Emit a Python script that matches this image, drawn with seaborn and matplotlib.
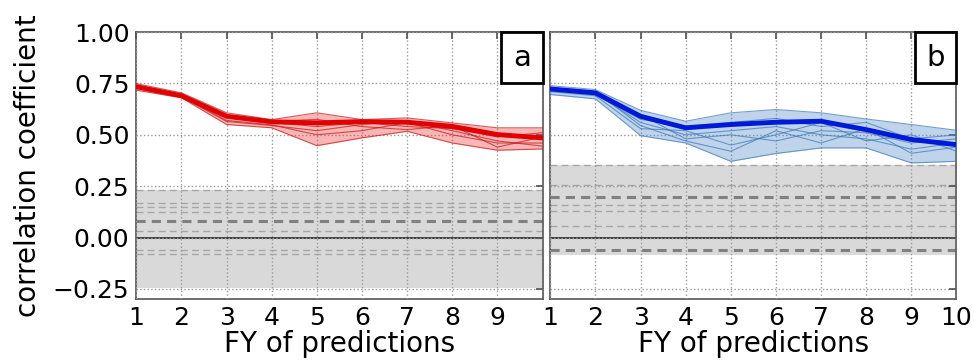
import numpy as np
import pandas as pd
import matplotlib
matplotlib.use("Agg")
import matplotlib.pyplot as plt
import seaborn as sns
from matplotlib.offsetbox import AnchoredText

sns.set_theme(style="white")
plt.rcParams['font.family'] = ['DejaVu Sans']
plt.rcParams['text.color'] = 'black'
plt.rcParams['axes.labelcolor'] = 'black'
plt.rcParams['xtick.labelcolor'] = 'black'
plt.rcParams['ytick.labelcolor'] = 'black'

fy = list(range(1, 11))

# panel a: ensemble members (thin) and the full-ensemble skill (thick)
a_members = [
    [0.749, 0.704, 0.607, 0.574, 0.607, 0.574, 0.582, 0.558, 0.534, 0.534],
    [0.717, 0.680, 0.550, 0.534, 0.447, 0.485, 0.517, 0.460, 0.425, 0.431],
    [0.735, 0.695, 0.585, 0.560, 0.540, 0.560, 0.540, 0.530, 0.490, 0.510],
    [0.728, 0.688, 0.570, 0.548, 0.500, 0.520, 0.560, 0.500, 0.460, 0.460],
    [0.740, 0.690, 0.595, 0.565, 0.575, 0.540, 0.525, 0.545, 0.440, 0.490],
    [0.732, 0.684, 0.565, 0.545, 0.520, 0.550, 0.570, 0.520, 0.470, 0.445],
]
a_main = [0.734, 0.690, 0.590, 0.563, 0.558, 0.564, 0.561, 0.541, 0.501, 0.485]
a_noise_band = (-0.245, 0.229)
a_noise_lines = [0.229, 0.169, 0.148, 0.123, 0.034, -0.061, -0.079]
a_noise_thick = [0.079]

# panel b
b_members = [
    [0.739, 0.720, 0.619, 0.566, 0.607, 0.623, 0.607, 0.577, 0.550, 0.522],
    [0.696, 0.675, 0.496, 0.460, 0.371, 0.409, 0.436, 0.436, 0.363, 0.371],
    [0.720, 0.700, 0.560, 0.500, 0.520, 0.540, 0.500, 0.480, 0.430, 0.460],
    [0.710, 0.690, 0.530, 0.520, 0.450, 0.500, 0.560, 0.470, 0.500, 0.420],
    [0.730, 0.705, 0.600, 0.480, 0.500, 0.470, 0.520, 0.510, 0.460, 0.480],
    [0.715, 0.695, 0.575, 0.540, 0.560, 0.580, 0.540, 0.560, 0.480, 0.500],
    [0.725, 0.710, 0.545, 0.470, 0.420, 0.520, 0.460, 0.530, 0.410, 0.440],
]
b_main = [0.723, 0.704, 0.590, 0.534, 0.550, 0.561, 0.566, 0.525, 0.477, 0.452]
b_noise_band = (-0.083, 0.355)
b_noise_lines = [0.355, 0.254, 0.157, 0.130, 0.054]
b_noise_thick = [0.196, -0.062]


def to_long(members):
    rows = []
    for i, m in enumerate(members):
        for x, v in zip(fy, m):
            rows.append({'fy': x, 'r': v, 'member': i})
    return pd.DataFrame(rows)


def draw_panel(ax, members, main, band, lines, thick, col_fill, col_member, col_main, label):
    ax.axhspan(band[0], band[1], color='#d9d9d9', zorder=0, lw=0)
    for y in lines:
        ax.axhline(y, color='#a6a6a6', ls='--', lw=1.0, dashes=(5, 3), zorder=1)
    for y in thick:
        ax.axhline(y, color='#808080', ls='--', lw=2.2, dashes=(3, 2), zorder=1)
    ax.axhline(0, color='#333333', lw=1.3, zorder=2)

    df = to_long(members)
    arr = np.array(members)
    ax.fill_between(fy, arr.min(axis=0), arr.max(axis=0), color=col_fill, alpha=0.35, lw=0, zorder=3)
    sns.lineplot(data=df, x='fy', y='r', units='member', estimator=None,
                 color=col_member, lw=0.8, alpha=0.7, ax=ax, zorder=4)
    sns.lineplot(x=fy, y=main, color=col_main, lw=3.5, ax=ax, zorder=5)

    ax.set_xlim(1, 10)
    ax.set_ylim(-0.3, 1.0)
    ax.set_xticks(fy)
    ax.grid(True, ls=':', color='#9a9a9a', lw=1.0)
    ax.set_axisbelow(False)
    ax.tick_params(direction='in', length=5, labelsize=18, color='#555555',
                   top=True, right=True, pad=5)
    for s in ax.spines.values():
        s.set_color('#555555')
        s.set_linewidth(1.2)
    ax.set_xlabel('FY of predictions', fontsize=20, labelpad=0)
    at = AnchoredText(label, loc='upper right', frameon=True, borderpad=0.0,
                      pad=0.4, prop=dict(size=21))
    at.patch.set_edgecolor('black')
    at.patch.set_linewidth(2)
    ax.add_artist(at)


fig = plt.figure(figsize=(9.74, 3.64), dpi=100)
ax1 = fig.add_axes([0.140, 0.178, 0.417, 0.734])
ax2 = fig.add_axes([0.565, 0.178, 0.417, 0.734])

draw_panel(ax1, a_members, a_main, a_noise_band, a_noise_lines, a_noise_thick,
           '#f03030', '#c01818', '#e00000', 'a')
draw_panel(ax2, b_members, b_main, b_noise_band, b_noise_lines, b_noise_thick,
           '#4a86c8', '#3c78b8', '#0018d8', 'b')

ax1.set_yticks([-0.25, 0, 0.25, 0.5, 0.75, 1.0])
ax1.set_yticklabels(['\u22120.25', '0.00', '0.25', '0.50', '0.75', '1.00'])
ax1.set_xticklabels([str(i) for i in range(1, 10)] + [''])
ax1.set_ylabel('correlation coefficient', fontsize=20, labelpad=8)
ax2.set_yticks([-0.25, 0, 0.25, 0.5, 0.75, 1.0])
ax2.set_yticklabels([])
ax2.set_ylabel('')

fig.savefig('out.png', dpi=100)
